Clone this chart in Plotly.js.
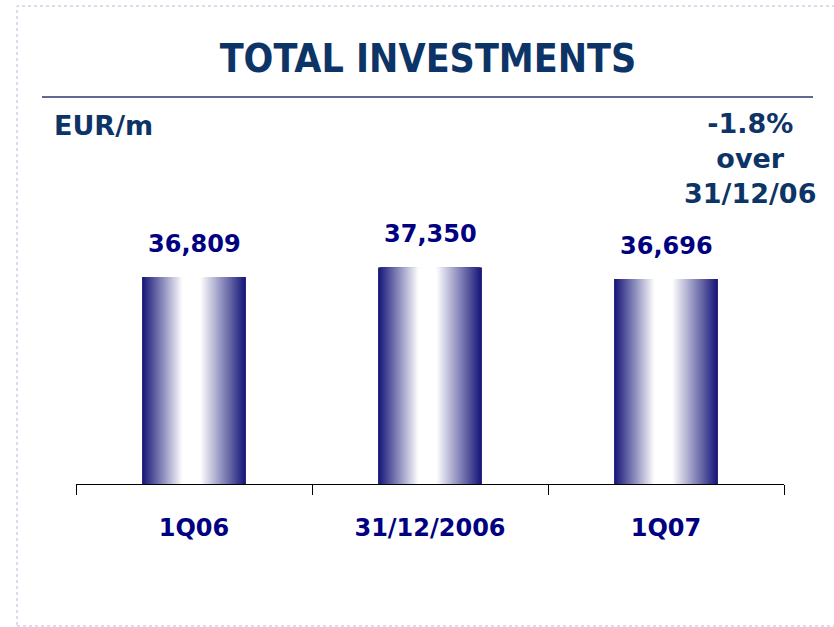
<!DOCTYPE html>
<html>
<head>
<meta charset="utf-8">
<script src="https://cdn.plot.ly/plotly-3.0.1.min.js"></script>
<style>html,body{margin:0;padding:0;background:#fff;}#chart{width:834px;height:627px;}</style>
</head>
<body>
<div id="chart"></div>
<script>
// ---- data ----
const chartTitle = 'TOTAL INVESTMENTS';
const unitLabel = 'EUR/m';
const categories = ['1Q06', '31/12/2006', '1Q07'];
const values = [36809, 37350, 36696];
const changeNote = ['-1.8%', 'over', '31/12/06'];

// ---- layout geometry (pixels) ----
const W = 834, H = 627;
const L = 76, R = 784, T = 221, B = 484;
const px = x => (x - L) / (R - L);
const py = y => (B - y) / (B - T);

const navy = '#000080';
const dark = '#0d3466';
const edge = [22, 22, 120];

// gradient: nested layers from the outer edge to the bright centre
const barW = 0.44;
const M = 48;
const traces = [];
for (let k = 0; k < M; k++) {
  const d = 1 - k / M;              // normalised distance from centre
  let t = Math.max(0, Math.min(1, (d - 0.18) / 0.82));
  t = Math.pow(t, 1.0);
  const c = edge.map(e => Math.round(255 + (e - 255) * t));
  const wi = barW * d;
  traces.push({
    type: 'bar',
    x: categories,
    y: values,
    width: wi,
    offset: -barW / 2 + (barW - wi) * 0.47,
    marker: { color: 'rgb(' + c.join(',') + ')', line: { width: 0 } },
    hoverinfo: 'skip',
    showlegend: false
  });
}

const annotations = categories.map((c, i) => ({
  x: c, y: values[i], xref: 'x', yref: 'y',
  text: values[i].toLocaleString('en-US'),
  showarrow: false, yanchor: 'bottom', xanchor: 'center', yshift: 17,
  font: { family: 'DejaVu Sans, sans-serif', size: 24, color: navy, weight: 'bold' }
}));
annotations.push({
  xref: 'paper', yref: 'paper', x: px(103.5), y: py(125),
  text: unitLabel, showarrow: false, xanchor: 'center', yanchor: 'middle',
  font: { family: 'DejaVu Sans, sans-serif', size: 27, color: dark, weight: 'bold' }
});
annotations.push({
  xref: 'paper', yref: 'paper', x: px(750), y: py(158),
  text: changeNote.join('<br>'), showarrow: false, xanchor: 'center', yanchor: 'middle',
  align: 'center',
  font: { family: 'DejaVu Sans, sans-serif', size: 27, color: dark, weight: 'bold' }
});

const layout = {
  width: W, height: H,
  margin: { l: L, r: W - R, t: T, b: H - B, pad: 0 },
  paper_bgcolor: '#fff', plot_bgcolor: '#fff',
  barmode: 'overlay',
  showlegend: false,
  title: {
    text: chartTitle,
    xref: 'container', yref: 'container',
    x: 428 / W, y: 1 - 58 / H, xanchor: 'center', yanchor: 'middle',
    font: { family: 'DejaVu Sans Condensed, Liberation Sans Narrow, Liberation Sans, sans-serif', size: 39, color: dark, weight: 'bold' }
  },
  xaxis: {
    type: 'category', range: [-0.5, 2.5],
    tickson: 'boundaries', ticks: 'outside', ticklen: 10, tickwidth: 1, tickcolor: '#000',
    showline: true, linecolor: '#000', linewidth: 1,
    showgrid: false, zeroline: false, fixedrange: true,
    ticklabelstandoff: 22,
    tickfont: { family: 'DejaVu Sans, sans-serif', size: 24, color: navy, weight: 'bold' }
  },
  yaxis: {
    range: [25000, 40000], visible: false, showgrid: false, zeroline: false, fixedrange: true
  },
  shapes: [
    { type: 'line', xref: 'paper', yref: 'paper', x0: px(42), x1: px(813), y0: py(97), y1: py(97),
      line: { color: '#2e3470', width: 1.5 } },
    { type: 'rect', xref: 'paper', yref: 'paper', x0: px(17), x1: px(845), y0: py(626), y1: py(6),
      line: { color: '#b3bcd8', width: 1, dash: 'dot' } }
  ],
  annotations: annotations
};

Plotly.newPlot('chart', traces, layout, { displayModeBar: false, staticPlot: true });
</script>
</body>
</html>
